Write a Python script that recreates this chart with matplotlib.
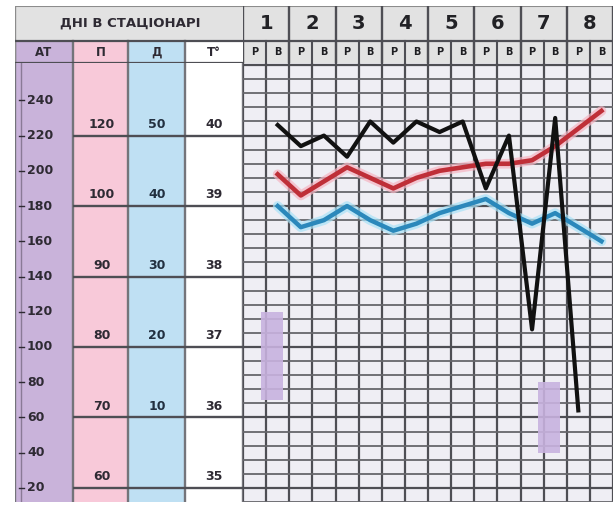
import numpy as np
import matplotlib.pyplot as plt

plt.rcParams['font.family'] = ['DejaVu Sans']

# half-day slots: 0 = day 1 morning (Р), 1 = day 1 evening (В), 2 = day 2 morning ...
days = [1, 2, 3, 4, 5, 6, 7, 8]
half_labels = ['Р', 'В']
title = 'ДНІ В СТАЦІОНАРІ'
col_labels = ['АТ', 'П', 'Д', 'T°']

# temperature (black)
temp_slots = [1, 2, 3, 4, 5, 6, 7, 8, 9, 10, 11, 12, 13, 14]
temp = [40.15, 39.85, 40.0, 39.7, 40.2, 39.9, 40.2, 40.05, 40.2, 39.25, 40.0, 37.25, 40.25, 36.1]

# pulse (red)
pulse_slots = [1, 2, 3, 4, 5, 6, 7, 8, 9, 10, 11, 12, 13, 14, 15]
pulse = [109, 103, 107, 111, 108, 105, 108, 110, 111, 112, 112, 113, 117, 122, 127]

# respiration (blue)
resp_slots = [1, 2, 3, 4, 5, 6, 7, 8, 9, 10, 11, 12, 13, 14, 15]
resp = [40, 37, 38, 40, 38, 36.5, 37.5, 39, 40, 41, 39, 37.5, 39, 37, 35]

# blood pressure bars
bp_slots = [1, 13]
bp_sys = [120, 80]
bp_dia = [70, 40]

# scale labels on the left
at_ticks = [20, 40, 60, 80, 100, 120, 140, 160, 180, 200, 220, 240]
pulse_ticks = [60, 70, 80, 90, 100, 120]
resp_ticks = [10, 20, 30, 40, 50]
temp_ticks = [35, 36, 37, 38, 39, 40]


# everything is drawn on the temperature axis
def at_to_t(v):
    return 35 + (np.asarray(v, dtype=float) - 20) / 40


def pulse_to_t(v):
    return np.interp(v, [60, 70, 80, 90, 100, 120, 140], [35, 36, 37, 38, 39, 40, 41])


def resp_to_t(v):
    return 35 + np.asarray(v, dtype=float) / 10


purple = '#c9b3da'
pink = '#f8c9d9'
lblue = '#bfe0f3'
grid_bg = '#efeef4'
head_bg = '#e2e2e2'
line_c = '#66666b'
dark = '#2e2a33'

W, H = 613, 505


def frac(x0, y0, x1, y1):
    return [x0 / W, 1 - y1 / H, (x1 - x0) / W, (y1 - y0) / H]


fig = plt.figure(figsize=(W / 100, H / 100), dpi=100)

# ---- main grid ----
ax = fig.add_axes(frac(243, 63, 613, 502))
ax.set_facecolor(grid_bg)
ax.set_xlim(-0.5, 15.23)
ax.set_ylim(34.86, 41.03)
ax.set_xticks(np.arange(-0.5, 16, 1))
ax.set_yticks(np.arange(35, 41.01, 1))
ax.set_yticks(np.arange(34.8, 41.1, 0.2), minor=True)
ax.grid(True, which='major', color='#4e4e54', lw=1.6)
ax.grid(True, which='minor', axis='y', color=line_c, lw=1.3)
ax.tick_params(which='both', length=0, labelleft=False, labelbottom=False)
for s in ax.spines.values():
    s.set_visible(False)
ax.set_axisbelow(True)

for x, hi, lo in zip(bp_slots, bp_sys, bp_dia):
    ax.bar(x - 0.25, at_to_t(hi) - at_to_t(lo), bottom=at_to_t(lo), width=0.95,
           color='#c8b2df', alpha=0.9, zorder=2)

ax.plot(resp_slots, resp_to_t(resp), color='#a9e2f7', lw=7, alpha=0.7,
        solid_capstyle='round', zorder=3)
ax.plot(resp_slots, resp_to_t(resp), color='#2b88bb', lw=3.2, zorder=4)
ax.plot(pulse_slots, pulse_to_t(pulse), color='#f6b4c2', lw=7, alpha=0.7,
        solid_capstyle='round', zorder=3)
ax.plot(pulse_slots, pulse_to_t(pulse), color='#bf2f38', lw=3.3, zorder=4)
ax.plot(temp_slots, temp, color='#111111', lw=3.0, zorder=5)

# ---- header over the grid ----
axh = fig.add_axes(frac(243, 6, 613, 63))
axh.set_xlim(ax.get_xlim())
axh.set_ylim(0, 1)
axh.set_facecolor(head_bg)
axh.set_xticks([])
axh.set_yticks([])
for s in axh.spines.values():
    s.set_visible(False)
row = 22 / 57
axh.axhline(row, color='#4e4e54', lw=1.6)
axh.axhline(1, color='#8c8c8c', lw=1.5)
for k in range(len(days) + 1):
    axh.axvline(2 * k - 0.5, color='#4e4e54', lw=1.7)
for k in range(2 * len(days)):
    axh.plot([k - 0.5, k - 0.5], [0, row], color='#4e4e54', lw=1.5)
    axh.text(k, row / 2, half_labels[k % 2], ha='center', va='center',
             fontsize=7, fontweight='bold', color='#1e1e22')
for i, d in enumerate(days):
    axh.text(2 * i + 0.5, (1 + row) / 2, str(d), ha='center', va='center',
             fontsize=14, fontweight='bold', color='#222226')

# ---- left scale panel ----
edges = [15, 73, 128, 185, 243]
fills = [purple, pink, lblue, 'white']

axl = fig.add_axes(frac(15, 63, 243, 502))
axl.set_xlim(edges[0], edges[-1])
axl.set_ylim(ax.get_ylim())
axl.set_xticks([])
axl.set_yticks([])
for s in axl.spines.values():
    s.set_visible(False)
for i in range(4):
    axl.axvspan(edges[i], edges[i + 1], color=fills[i], lw=0)
for e in edges:
    axl.axvline(e, color='#74747a', lw=1.7)
axl.axvline(21, color='#8a7a96', lw=1.0)
axl.hlines(temp_ticks, edges[1], edges[-1], color='#4e4e54', lw=1.7)

for v, y in zip(at_ticks, at_to_t(at_ticks)):
    axl.plot([19, 24], [y, y], color=dark, lw=1.0)
    axl.text(27, y, str(v), ha='left', va='center', fontsize=9,
             fontweight='bold', color=dark)
for v, y in zip(pulse_ticks, pulse_to_t(pulse_ticks)):
    axl.text(102, y + 0.16, str(v), ha='center', va='center', fontsize=9,
             fontweight='bold', color=dark)
for v, y in zip(resp_ticks, resp_to_t(resp_ticks)):
    axl.text(157, y + 0.16, str(v), ha='center', va='center', fontsize=9,
             fontweight='bold', color='#223040')
for v in temp_ticks:
    axl.text(214, v + 0.16, str(v), ha='center', va='center', fontsize=9,
             fontweight='bold', color=dark)

# ---- left header ----
axlh = fig.add_axes(frac(15, 6, 243, 63))
axlh.set_xlim(edges[0], edges[-1])
axlh.set_ylim(0, 1)
axlh.set_xticks([])
axlh.set_yticks([])
for s in axlh.spines.values():
    s.set_visible(False)
axlh.axhspan(row, 1, color=head_bg, lw=0)
for i in range(4):
    axlh.fill_between([edges[i], edges[i + 1]], 0, row, color=fills[i], lw=0)
    axlh.text((edges[i] + edges[i + 1]) / 2, row / 2, col_labels[i], ha='center',
              va='center', fontsize=8.5, fontweight='bold', color=dark)
    axlh.plot([edges[i], edges[i]], [0, row], color='#74747a', lw=1.7)
axlh.axvline(edges[0], color='#8c8c8c', lw=1.7)
axlh.axhline(row, color='#4e4e54', lw=1.6)
axlh.axhline(0, color='#4e4e54', lw=1.6)
axlh.axhline(1, color='#8c8c8c', lw=1.5)
axlh.text(130, (1 + row) / 2, title, ha='center', va='center', fontsize=9.5,
          fontweight='bold', color=dark)

fig.savefig('out.png', dpi=100)
